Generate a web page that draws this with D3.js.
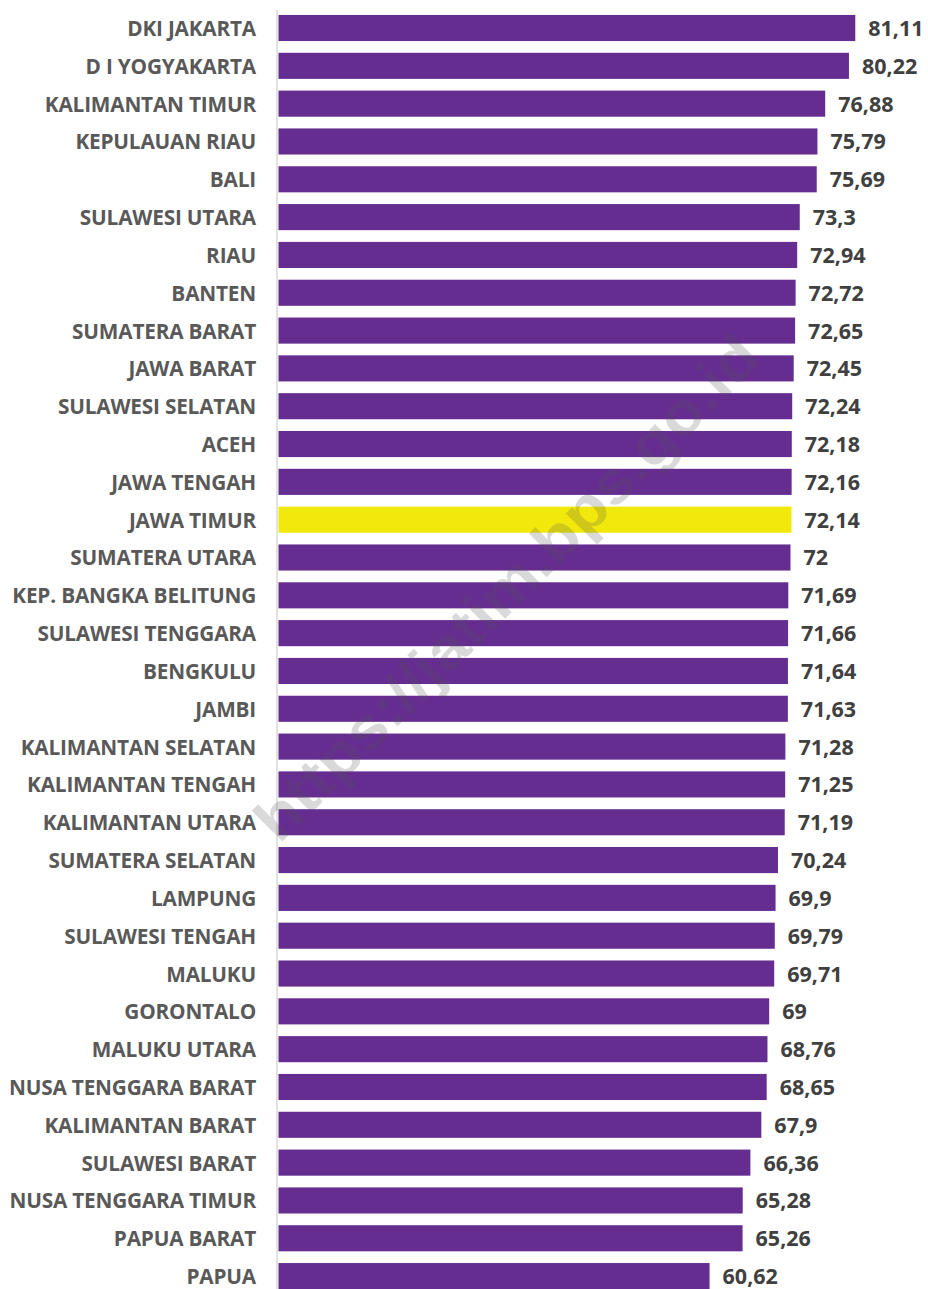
<!DOCTYPE html>
<html><head><meta charset="utf-8">
<script src="https://cdn.jsdelivr.net/npm/d3@7"></script>
<style>body{margin:0;background:#fff}</style>
</head><body>
<svg id="c" width="928" height="1289"></svg>
<script>
const provinces = ["DKI JAKARTA","D I YOGYAKARTA","KALIMANTAN TIMUR","KEPULAUAN RIAU","BALI","SULAWESI UTARA","RIAU","BANTEN","SUMATERA BARAT","JAWA BARAT","SULAWESI SELATAN","ACEH","JAWA TENGAH","JAWA TIMUR","SUMATERA UTARA","KEP. BANGKA BELITUNG","SULAWESI TENGGARA","BENGKULU","JAMBI","KALIMANTAN SELATAN","KALIMANTAN TENGAH","KALIMANTAN UTARA","SUMATERA SELATAN","LAMPUNG","SULAWESI TENGAH","MALUKU","GORONTALO","MALUKU UTARA","NUSA TENGGARA BARAT","KALIMANTAN BARAT","SULAWESI BARAT","NUSA TENGGARA TIMUR","PAPUA BARAT","PAPUA"];
const values = [81.11,80.22,76.88,75.79,75.69,73.3,72.94,72.72,72.65,72.45,72.24,72.18,72.16,72.14,72,71.69,71.66,71.64,71.63,71.28,71.25,71.19,70.24,69.9,69.79,69.71,69,68.76,68.65,67.9,66.36,65.28,65.26,60.62];
const highlight = ["JAWA TIMUR"];
const watermark = "https://jatim.bps.go.id";

const data = provinces.map((p,i)=>({p, v: values[i]}));
const svg = d3.select("#c");
const x = d3.scaleLinear().domain([0, 90]).range([278.5, 918.5]);
const y = d3.scaleBand().domain(provinces).range([9.1, 1295]).paddingInner(0.31).paddingOuter(0.155);
const fmt = v => String(v).replace(".", ",");

svg.append("g").selectAll("rect").data(data).join("rect")
  .attr("x", x(0)).attr("y", d=>y(d.p))
  .attr("width", d=>x(d.v)-x(0)).attr("height", y.bandwidth())
  .attr("fill", d=>highlight.includes(d.p) ? "#f2e90c" : "#662d91");

// axis line
svg.append("line").attr("x1", 277).attr("x2", 277).attr("y1", 10).attr("y2", 1289)
  .attr("stroke", "#d9d9d9").attr("stroke-width", 1.5);

const font = "'Open Sans', sans-serif";
svg.append("g").selectAll("text").data(data).join("text")
  .attr("x", 256).attr("y", d=>y(d.p)+y.bandwidth()/2)
  .attr("text-anchor","end").attr("dominant-baseline","central")
  .attr("font-family", font).attr("font-weight", 700).attr("font-size", 20.8)
  .attr("letter-spacing", -0.2)
  .attr("fill", "#595959").text(d=>d.p);

svg.append("g").selectAll("text").data(data).join("text")
  .attr("x", d=>x(d.v)+13).attr("y", d=>y(d.p)+y.bandwidth()/2 - 0.5)
  .attr("dominant-baseline","central")
  .attr("font-family", font).attr("font-weight", 700).attr("font-size", 21.5)
  .attr("fill", "#404040").text(d=>fmt(d.v));

svg.append("text").attr("transform","translate(507,588) rotate(-45)")
  .attr("text-anchor","middle").attr("dominant-baseline","central")
  .attr("font-family", "'Liberation Sans', Arial, sans-serif").attr("font-weight",700)
  .attr("font-size", 60).attr("textLength", 685).attr("lengthAdjust","spacingAndGlyphs")
  .attr("fill","rgba(80,80,80,0.22)")
  .text(watermark);
</script>
</body></html>
